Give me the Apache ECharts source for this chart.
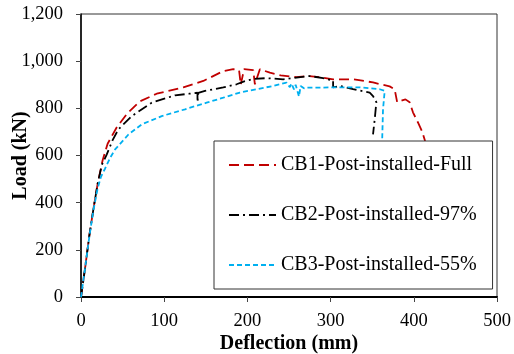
<!DOCTYPE html>
<html>
<head>
<meta charset="utf-8">
<script src="https://cdn.jsdelivr.net/npm/echarts@6/dist/echarts.min.js"></script>
<style>
  html, body { margin: 0; padding: 0; background: #fff; }
  #chart { width: 514px; height: 354px; }
</style>
</head>
<body>
<div id="chart"></div>
<script>
// [deflection mm, load kN]
const cb1 = [
  [0, 0], [5, 125], [10, 260], [15, 375], [20, 480], [26, 580], [32, 650], [43, 720],
  [56, 780], [71, 830], [91, 862], [123, 889], [147, 916], [171, 958], [183, 966],
  [190, 962], [192, 900], [196, 966], [207, 962], [209, 902], [215, 966], [227, 951],
  [240, 940], [259, 932], [272, 937], [287, 932], [303, 923], [327, 923], [351, 910],
  [360, 902], [371, 893], [377, 881], [380, 826], [386, 834], [390, 838], [395, 826],
  [399, 783], [405, 740], [410, 702], [413, 668], [418, 600], [423, 540]
]
const cb2 = [
  [0, 0], [5, 125], [10, 260], [15, 375], [20, 480], [25, 560], [31, 605], [38, 665],
  [45, 711], [61, 767], [85, 824], [113, 855], [130, 862], [140, 866], [140, 826],
  [141, 866], [149, 874], [155, 878], [171, 889], [187, 902], [197, 915], [207, 925],
  [223, 928], [243, 923], [259, 930], [275, 937], [291, 928], [303, 918], [303, 889],
  [311, 895], [327, 881], [347, 867], [351, 852], [355, 826], [353, 753], [351, 690]
]
const cb3 = [
  [0, 0], [5, 125], [10, 255], [15, 370], [20, 460], [24, 510], [29, 545], [35, 590],
  [41, 626], [57, 689], [73, 732], [97, 767], [125, 796], [151, 824], [171, 845],
  [191, 867], [211, 881], [231, 895], [247, 909], [249, 912], [251, 890], [253, 905],
  [256, 880], [258, 900], [262, 850], [264, 895], [268, 885], [271, 888], [291, 888],
  [303, 889], [335, 889], [359, 881], [365, 874], [363, 796], [362, 668], [361, 560]
]
const seriesNames = ['CB1-Post-installed-Full', 'CB2-Post-installed-97%', 'CB3-Post-installed-55%']
const xTicks = [0, 100, 200, 300, 400, 500]
const yTicks = [0, 200, 400, 600, 800, 1000, 1200]

const font = 'Liberation Serif'

const chart = echarts.init(document.getElementById('chart'))

const option = {
  animation: false,
  backgroundColor: '#fff',
  textStyle: { fontFamily: font },
  grid: {
    left: 81,
    right: 17,
    top: 14,
    bottom: 57,
    outerBoundsMode: 'none',
    containLabel: false,
    show: true,
    borderColor: '#333',
    borderWidth: 1,
  },
  xAxis: {
    type: 'value',
    min: xTicks[0],
    max: xTicks[xTicks.length - 1],
    interval: 100,
    name: 'Deflection (mm)',
    nameLocation: 'middle',
    nameGap: 37,
    nameMoveOverlap: false,
    nameTextStyle: { fontFamily: font, fontSize: 20, fontWeight: 'bold', color: '#000' },
    axisLine: { lineStyle: { color: '#000', width: 2 } },
    axisTick: { inside: false, length: 5, lineStyle: { color: '#444' } },
    axisLabel: { fontFamily: font, fontSize: 18.5, color: '#000', margin: 15 },
    splitLine: { show: false },
  },
  yAxis: {
    type: 'value',
    min: yTicks[0],
    max: yTicks[yTicks.length - 1],
    interval: 200,
    name: 'Load (kN)',
    nameLocation: 'middle',
    nameGap: 50,
    nameMoveOverlap: false,
    nameTextStyle: { fontFamily: font, fontSize: 20, fontWeight: 'bold', color: '#000' },
    axisLine: { lineStyle: { color: '#000', width: 1.5 } },
    axisTick: { inside: false, length: 5, lineStyle: { color: '#444' } },
    axisLabel: {
      fontFamily: font,
      fontSize: 18.5,
      color: '#000',
      margin: 18,
      formatter: v => v.toLocaleString('en-US'),
    },
    splitLine: { show: false },
  },
  legend: {
    orient: 'vertical',
    left: 214,
    top: 141,
    padding: [14, 16, 14, 14],
    itemWidth: 47,
    itemHeight: 17,
    itemGap: 30,
    backgroundColor: '#fff',
    borderColor: '#333',
    borderWidth: 1,
    z: 10,
    itemStyle: { opacity: 0 },
    textStyle: { fontFamily: font, fontSize: 20, color: '#000' },
    data: seriesNames,
  },
  series: [
    {
      name: seriesNames[0],
      type: 'line',
      data: cb1,
      symbol: 'none',
      lineStyle: { color: '#C00000', width: 1.8, type: [10, 5] },
      itemStyle: { color: '#C00000' },
    },
    {
      name: seriesNames[1],
      type: 'line',
      data: cb2,
      symbol: 'none',
      lineStyle: { color: '#000', width: 1.8, type: [10, 4, 2, 4] },
      itemStyle: { color: '#000' },
    },
    {
      name: seriesNames[2],
      type: 'line',
      data: cb3,
      symbol: 'none',
      lineStyle: { color: '#00B0F0', width: 1.8, type: [5, 3] },
      itemStyle: { color: '#00B0F0' },
    },
  ],
}

chart.setOption(option)
</script>
</body>
</html>
